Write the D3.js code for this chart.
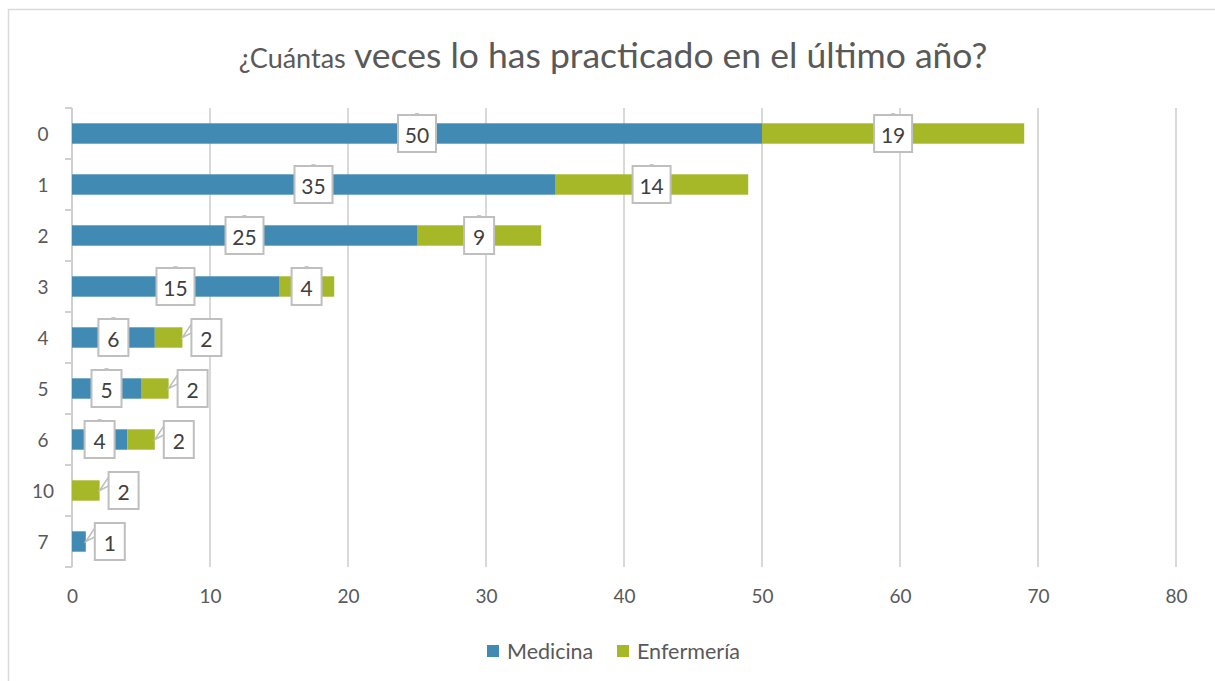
<!DOCTYPE html>
<html>
<head>
    <meta charset="utf-8">
    <style>
        body { margin: 0; background: #fff; }
        text { font-family: Lato, "Open Sans", sans-serif; fill: #595959; }
        .tick text { font-size: 19px; }
        .lbl { font-size: 21px; text-anchor: middle; dominant-baseline: central; fill: #404040; }
    </style>
    <script src="https://d3js.org/d3.v7.min.js"></script>
</head>
<body>
    <svg width="1215" height="681"></svg>
    <script>
        // data
        var categories = ["0", "1", "2", "3", "4", "5", "6", "10", "7"];
        var medicina   = [50, 35, 25, 15, 6, 5, 4, 0, 1];
        var enfermeria = [19, 14, 9, 4, 2, 2, 2, 2, 0];
        var xTicks = [0, 10, 20, 30, 40, 50, 60, 70, 80];
        var seriesNames = ["Medicina", "Enfermería"];
        var colors = ["#418ab3", "#a6b727"];

        var svg = d3.select("svg");

        // outer chart border
        svg.append("rect")
           .attr("x", 8.5).attr("y", 9.5)
           .attr("width", 1230).attr("height", 700)
           .attr("fill", "none")
           .attr("stroke", "#d9d9d9")
           .attr("stroke-width", 1.5);

        var margin = {left: 72, right: 39, top: 108, bottom: 114},
            width = 1215 - margin.left - margin.right,
            height = 681 - margin.top - margin.bottom;

        var x = d3.scaleLinear().domain([0, 80]).range([0, width]);
        var y = d3.scaleBand().domain(categories).range([0, height]).paddingInner(0.6).paddingOuter(0.3);

        var g = svg.append("g")
                   .attr("transform", "translate(" + margin.left + "," + margin.top + ")");

        // gridlines
        g.selectAll(".grid")
         .data(xTicks.slice(1))
         .enter().append("line")
         .attr("x1", function(d) { return x(d); })
         .attr("x2", function(d) { return x(d); })
         .attr("y1", 0).attr("y2", height)
         .attr("stroke", "#d9d9d9")
         .attr("stroke-width", 2);

        // x axis (labels only)
        var xAxis = g.append("g")
                     .attr("transform", "translate(0," + height + ")")
                     .call(d3.axisBottom(x).tickValues(xTicks).tickSize(0).tickPadding(23));
        xAxis.select(".domain").remove();

        // y axis: line + ticks at band boundaries
        g.append("line")
         .attr("x1", 0).attr("x2", 0).attr("y1", 0).attr("y2", height)
         .attr("stroke", "#d0d0d0").attr("stroke-width", 2);
        var bounds = d3.range(categories.length + 1);
        g.selectAll(".ytick")
         .data(bounds)
         .enter().append("line")
         .attr("x1", -7).attr("x2", 0)
         .attr("y1", function(i) { return i * height / categories.length; })
         .attr("y2", function(i) { return i * height / categories.length; })
         .attr("stroke", "#d0d0d0").attr("stroke-width", 2);
        g.selectAll(".ylab")
         .data(categories)
         .enter().append("text")
         .attr("x", -29)
         .attr("y", function(d) { return y(d) + y.bandwidth() / 2; })
         .attr("text-anchor", "middle")
         .attr("dominant-baseline", "central")
         .style("font-size", "19px")
         .text(function(d) { return d; });

        // stacked bars
        var rows = categories.map(function(c, i) {
            return {cat: c, Medicina: medicina[i], "Enfermería": enfermeria[i]};
        });
        var stack = d3.stack().keys(seriesNames)(rows);

        var layer = g.selectAll(".layer")
                     .data(stack)
                     .enter().append("g")
                     .attr("fill", function(d, i) { return colors[i]; });

        layer.selectAll("rect")
             .data(function(d) { return d; })
             .enter().append("rect")
             .attr("x", function(d) { return x(d[0]); })
             .attr("y", function(d) { return y(d.data.cat); })
             .attr("width", function(d) { return x(d[1]) - x(d[0]); })
             .attr("height", y.bandwidth());

        // data labels (callout boxes)
        var boxH = 37;
        var labels = [];
        stack.forEach(function(s) {
            s.forEach(function(d) {
                var v = d[1] - d[0];
                if (v > 0) labels.push({v: v, x0: x(d[0]), x1: x(d[1]), cy: y(d.data.cat) + y.bandwidth() / 2});
            });
        });

        var lab = g.selectAll(".lab")
                   .data(labels)
                   .enter().append("g");

        lab.each(function(d) {
            var el = d3.select(this);
            var w = String(d.v).length > 1 ? 38 : 30;
            var segW = d.x1 - d.x0;
            var top = d.cy - boxH / 2;
            var bx, cx;
            if (segW > w + 4) {
                cx = (d.x0 + d.x1) / 2;
                bx = cx - w / 2;
                el.append("rect")
                  .attr("x", cx - 2).attr("y", top - 2)
                  .attr("width", 4).attr("height", 2)
                  .attr("fill", "#c8c8c8");
            } else {
                bx = d.x1 + 9;
                cx = bx + w / 2;
                el.append("path")
                  .attr("d", "M" + d.x1 + "," + d.cy + "L" + bx + "," + (top + 5) + "L" + bx + "," + (top + 14) + "Z")
                  .attr("fill", "#fff")
                  .attr("stroke", "#bfbfbf")
                  .attr("stroke-width", 1.5);
            }
            el.append("rect")
              .attr("x", bx).attr("y", top)
              .attr("width", w).attr("height", boxH)
              .attr("fill", "#fff")
              .attr("stroke", "#bfbfbf")
              .attr("stroke-width", 2);
            el.append("text")
              .attr("class", "lbl")
              .attr("x", cx).attr("y", d.cy + 1)
              .text(d.v);
        });

        // title
        var title = svg.append("text")
                       .attr("x", 613).attr("y", 68)
                       .attr("text-anchor", "middle")
                       .style("font-size", "35.5px");
        title.append("tspan").style("font-size", "27px").text("¿Cuántas");
        title.append("tspan").text(" veces lo has practicado en el último año?");

        // legend
        var legend = svg.append("g").attr("transform", "translate(487,651)");
        var legX = [0, 130];
        seriesNames.forEach(function(name, i) {
            legend.append("rect")
                  .attr("x", legX[i]).attr("y", -6)
                  .attr("width", 12).attr("height", 12)
                  .attr("fill", colors[i]);
            legend.append("text")
                  .attr("x", legX[i] + 20).attr("y", 0)
                  .attr("dominant-baseline", "central")
                  .style("font-size", "21.5px")
                  .text(name);
        });
    </script>
</body>
</html>
